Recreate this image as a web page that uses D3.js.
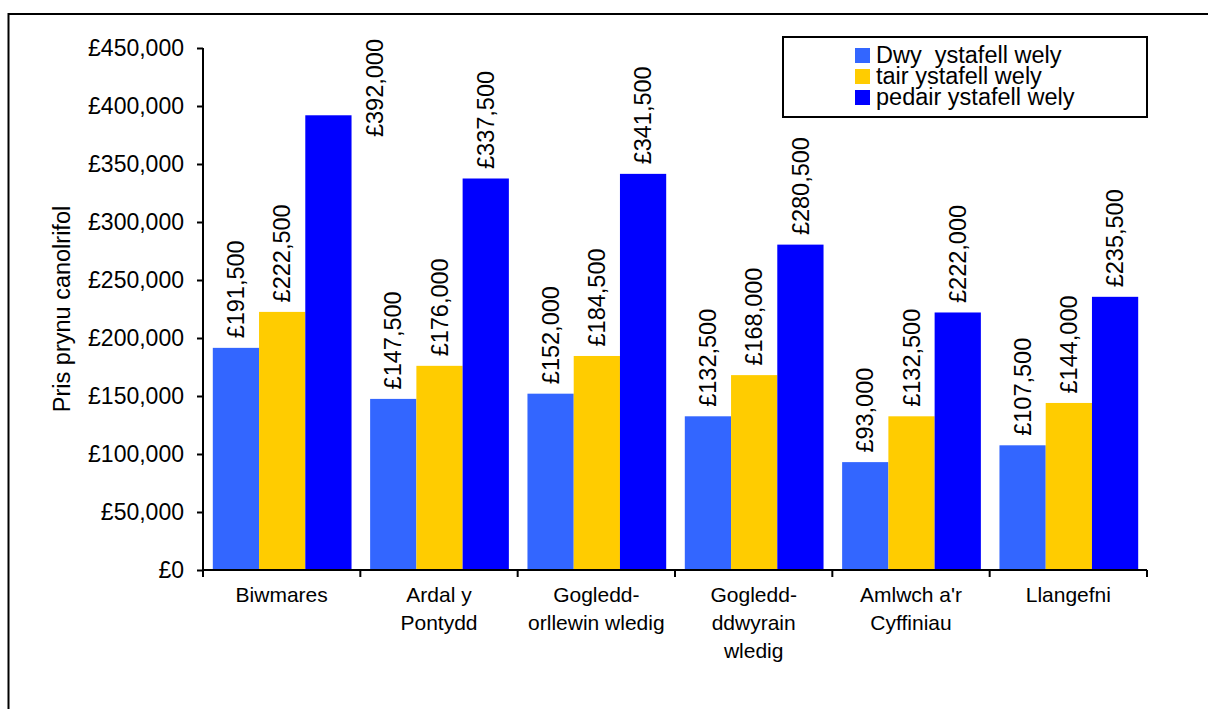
<!DOCTYPE html>
<html>
<head>
<meta charset="utf-8">
<script src="https://cdn.jsdelivr.net/npm/d3@7"></script>
<style>
  html, body { margin: 0; padding: 0; background: #fff; }
  svg { display: block; font-family: "Liberation Sans", Arial, sans-serif; }
</style>
</head>
<body>
<svg id="chart" width="1208" height="709"></svg>
<script>
// Median purchase price by area and number of bedrooms
const areas = [
  ["Biwmares"],
  ["Ardal y", "Pontydd"],
  ["Gogledd-", "orllewin wledig"],
  ["Gogledd-", "ddwyrain", "wledig"],
  ["Amlwch a'r", "Cyffiniau"],
  ["Llangefni"]
];
const seriesNames = ["Dwy  ystafell wely", "tair ystafell wely", "pedair ystafell wely"];
const seriesColors = ["#3366FF", "#FFCC00", "#0000FF"];
const twoBed   = [191500, 147500, 152000, 132500, 93000, 107500];
const threeBed = [222500, 176000, 184500, 168000, 132500, 144000];
const fourBed  = [392000, 337500, 341500, 280500, 222000, 235500];
const yTicks = [0, 50000, 100000, 150000, 200000, 250000, 300000, 350000, 400000, 450000];
const yTitle = "Pris prynu canolrifol";

const series = [twoBed, threeBed, fourBed];
const keys = areas.map(a => a.join(" "));

const svg = d3.select("#chart");
const plotLeft = 203, plotRight = 1147, plotTop = 48, plotBottom = 570;

// outer frame
svg.append("rect")
  .attr("x", 8.5).attr("y", 14).attr("width", 1400).attr("height", 900)
  .attr("fill", "none").attr("stroke", "#000").attr("stroke-width", 2);

const x0 = d3.scaleBand().domain(keys).range([plotLeft, plotRight]).padding(0);
const x1 = d3.scaleBand().domain(d3.range(series.length))
  .range([9.8, x0.bandwidth() - 8.8]).padding(0);
const y = d3.scaleLinear().domain([0, 450000]).range([plotBottom, plotTop]);

const fmt = v => "£" + d3.format(",")(v);

// bars
const groups = svg.append("g").selectAll("g").data(keys).join("g")
  .attr("transform", k => `translate(${x0(k)},0)`);

groups.selectAll("rect")
  .data((k, i) => series.map((s, j) => ({ j, v: s[i] })))
  .join("rect")
  .attr("x", d => x1(d.j))
  .attr("width", x1.bandwidth())
  .attr("y", d => y(d.v))
  .attr("height", d => y(0) - y(d.v))
  .attr("fill", d => seriesColors[d.j]);

// value labels, rotated; a label that would run past the top is set beside its bar
const labelSize = 23.5;
groups.selectAll("text.val")
  .data((k, i) => series.map((s, j) => ({ j, v: s[i] })))
  .join("text")
  .attr("class", "val")
  .attr("font-size", labelSize)
  .attr("fill", "#000")
  .each(function (d) {
    const t = d3.select(this).text(fmt(d.v));
    const len = this.getComputedTextLength();
    let cx = x1(d.j) + x1.bandwidth() / 2;
    let ay = y(d.v) - 9.5;
    let anchor = "start";
    if (ay - len < 30) {
      cx = x1(d.j) + x1.bandwidth() + 23;
      ay = 39;
      anchor = "end";
    }
    t.attr("text-anchor", anchor)
     .attr("dy", "0.35em")
     .attr("transform", `translate(${cx},${ay}) rotate(-90)`);
  });

// y axis
const yAxis = svg.append("g")
  .attr("transform", `translate(${plotLeft},0)`)
  .call(d3.axisLeft(y).tickValues(yTicks).tickFormat(fmt).tickSize(6).tickPadding(13));
yAxis.select(".domain").attr("stroke-width", 2).attr("d", `M0,${plotTop}V${plotBottom}`);
yAxis.selectAll(".tick line").attr("stroke-width", 2);
yAxis.selectAll(".tick text").attr("font-size", 23).attr("fill", "#000")
  .attr("font-family", "Liberation Sans, Arial, sans-serif");

// x axis with ticks on category boundaries
const xAxisG = svg.append("g");
xAxisG.append("line")
  .attr("x1", plotLeft).attr("x2", plotRight).attr("y1", plotBottom).attr("y2", plotBottom)
  .attr("stroke", "#000").attr("stroke-width", 2);
const bounds = keys.map(k => x0(k)).concat([plotRight]);
xAxisG.selectAll("line.tk").data(bounds).join("line")
  .attr("class", "tk")
  .attr("x1", d => d).attr("x2", d => d)
  .attr("y1", plotBottom).attr("y2", plotBottom + 7)
  .attr("stroke", "#000").attr("stroke-width", 2);

const catLabels = xAxisG.selectAll("text.cat").data(areas).join("text")
  .attr("class", "cat")
  .attr("text-anchor", "middle")
  .attr("font-size", 21)
  .attr("fill", "#000")
  .attr("transform", (a, i) => `translate(${x0(keys[i]) + x0.bandwidth() / 2},${plotBottom + 32})`);
catLabels.selectAll("tspan").data(a => a).join("tspan")
  .attr("x", 0).attr("y", (d, i) => i * 28).text(d => d);

// y axis title
svg.append("text")
  .attr("transform", `translate(70,309) rotate(-90)`)
  .attr("text-anchor", "middle")
  .attr("font-size", 23.5)
  .attr("fill", "#000")
  .text(yTitle);

// legend
const legend = svg.append("g");
legend.append("rect")
  .attr("x", 783).attr("y", 37).attr("width", 364).attr("height", 80)
  .attr("fill", "#fff").attr("stroke", "#000").attr("stroke-width", 2);
const items = legend.selectAll("g.item").data(seriesNames).join("g")
  .attr("class", "item")
  .attr("transform", (d, i) => `translate(855,${48 + i * 21})`);
items.append("rect")
  .attr("width", 15).attr("height", 15)
  .attr("fill", (d, i) => seriesColors[i]);
items.append("text")
  .attr("x", 21).attr("y", 14.5)
  .attr("font-size", 23.5)
  .attr("fill", "#000")
  .attr("xml:space", "preserve")
  .style("white-space", "pre")
  .text(d => d);
</script>
</body>
</html>
